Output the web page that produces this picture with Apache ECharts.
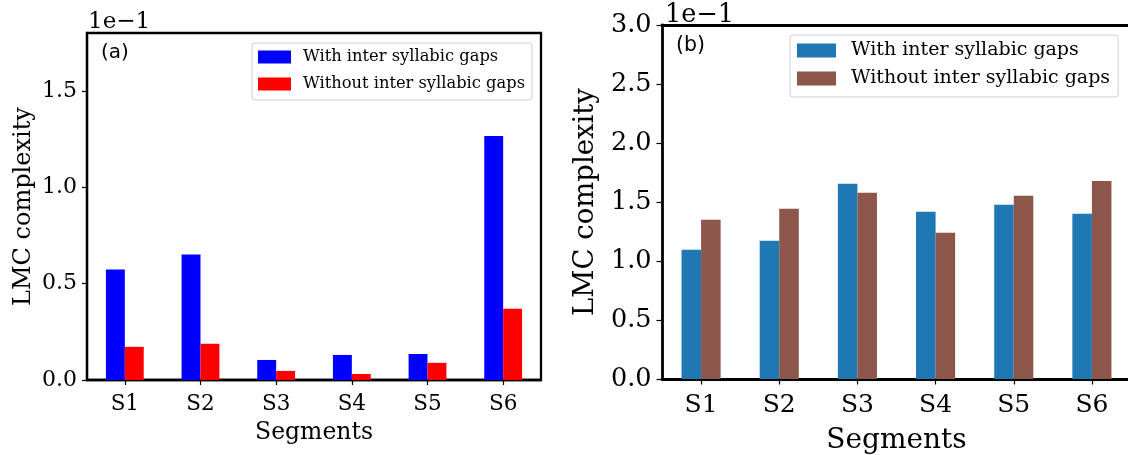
<!DOCTYPE html>
<html>
<head>
<meta charset="utf-8">
<script src="https://cdn.jsdelivr.net/npm/echarts@6/dist/echarts.min.js"></script>
<style>
html,body{margin:0;padding:0;background:#fff;}
#chart{width:1128px;height:455px;}
</style>
</head>
<body>
<div id="chart"></div>
<script>
// ---- data (values in units of 1e-1) ----
const categories = ['S1', 'S2', 'S3', 'S4', 'S5', 'S6'];
const seriesLabels = ['With inter syllabic gaps', 'Without inter syllabic gaps'];
const leftWith    = [0.573, 0.651, 0.104, 0.130, 0.135, 1.266];
const leftWithout = [0.172, 0.188, 0.047, 0.031, 0.089, 0.370];
const rightWith    = [1.095, 1.171, 1.654, 1.417, 1.476, 1.400];
const rightWithout = [1.349, 1.442, 1.578, 1.239, 1.552, 1.679];
const leftTicks  = [0, 0.5, 1.0, 1.5];
const rightTicks = [0, 0.5, 1.0, 1.5, 2.0, 2.5, 3.0];
const offsetText = '1e\u22121';
const panelLabels = ['(a)', '(b)'];
const xName = 'Segments';
const yName = 'LMC complexity';

const SERIF = 'DejaVu Serif';

const chart = echarts.init(document.getElementById('chart'), null, {renderer: 'canvas'});

function yAxisCfg(gi, max, ticks, fs, nfs, gap, lw, tl) {
  return {
    type: 'value', gridIndex: gi, min: 0, max: max, interval: 0.5,
    splitLine: {show: false},
    axisLine: {show: true, lineStyle: {color: '#000', width: lw}},
    axisTick: {show: true, length: tl, lineStyle: {color: '#000', width: 1.2}, customValues: ticks},
    axisLabel: {color: '#000', fontFamily: SERIF, fontSize: fs, margin: tl + 5,
      customValues: ticks, formatter: v => v.toFixed(1)},
    name: yName, nameLocation: 'middle', nameGap: gap,
    nameTextStyle: {color: '#000', fontFamily: SERIF, fontSize: nfs}
  };
}
function xAxisCfg(gi, fs, nfs, gap, lw, tl, margin) {
  return {
    type: 'category', gridIndex: gi, data: categories,
    axisLine: {show: true, lineStyle: {color: '#000', width: lw}},
    axisTick: {show: true, alignWithLabel: true, length: tl, lineStyle: {color: '#000', width: 1.2}},
    axisLabel: {color: '#000', fontFamily: SERIF, fontSize: fs, margin: margin},
    splitLine: {show: false},
    name: xName, nameLocation: 'middle', nameGap: gap,
    nameTextStyle: {color: '#000', fontFamily: SERIF, fontSize: nfs}
  };
}

const option = {
  animation: false,
  backgroundColor: '#fff',
  grid: [
    {left: 87, top: 33, width: 454, height: 347, show: true, borderColor: '#000', borderWidth: 2.3,
      backgroundColor: 'transparent', containLabel: false, outerBoundsMode: 'none'},
    {left: 662, top: 25, width: 469, height: 354, show: false,
      containLabel: false, outerBoundsMode: 'none'}
  ],
  xAxis: [
    xAxisCfg(0, 21.5, 23.5, 41, 2.3, 5, 13),
    xAxisCfg(1, 25, 28, 48, 2.8, 5.5, 14),
    {type: 'category', gridIndex: 1, position: 'top', data: categories,
      axisLine: {show: true, onZero: false, lineStyle: {color: '#000', width: 2.8}},
      axisTick: {show: false}, axisLabel: {show: false}, splitLine: {show: false}}
  ],
  yAxis: [
    yAxisCfg(0, 1.8, leftTicks, 22, 24, 51, 2.3, 5),
    yAxisCfg(1, 3.0, rightTicks, 25.5, 27.5, 62, 2.8, 5.5)
  ],
  legend: [
    {
      data: ['a|' + seriesLabels[0], 'a|' + seriesLabels[1]],
      formatter: n => n.slice(2),
      icon: 'rect',
      orient: 'vertical', left: 252, top: 43,
      itemWidth: 33, itemHeight: 13, itemGap: 11,
      padding: [6, 7, 8, 6],
      borderColor: '#d0d0d0', borderWidth: 1, borderRadius: 3,
      backgroundColor: 'rgba(255,255,255,0.8)',
      textStyle: {color: '#000', fontFamily: SERIF, fontSize: 16.3, padding: [0, 0, 0, 7]},
      selectedMode: false
    },
    {
      data: ['b|' + seriesLabels[0], 'b|' + seriesLabels[1]],
      formatter: n => n.slice(2),
      icon: 'rect',
      orient: 'vertical', left: 790, top: 35,
      itemWidth: 39, itemHeight: 14, itemGap: 9,
      padding: [6, 8, 9, 7],
      borderColor: '#d0d0d0', borderWidth: 1, borderRadius: 3,
      backgroundColor: 'rgba(255,255,255,0.8)',
      textStyle: {color: '#000', fontFamily: SERIF, fontSize: 19, padding: [0, 0, 0, 10]},
      selectedMode: false
    }
  ],
  series: [
    {name: 'a|' + seriesLabels[0], type: 'bar', xAxisIndex: 0, yAxisIndex: 0, data: leftWith,
      barWidth: '25%', barGap: '0%', itemStyle: {color: '#0000ff'}},
    {name: 'a|' + seriesLabels[1], type: 'bar', xAxisIndex: 0, yAxisIndex: 0, data: leftWithout,
      barWidth: '25%', barGap: '0%', itemStyle: {color: '#ff0000'}},
    {name: 'b|' + seriesLabels[0], type: 'bar', xAxisIndex: 1, yAxisIndex: 1, data: rightWith,
      barWidth: '25%', barGap: '0%', itemStyle: {color: '#1f77b4'}},
    {name: 'b|' + seriesLabels[1], type: 'bar', xAxisIndex: 1, yAxisIndex: 1, data: rightWithout,
      barWidth: '25%', barGap: '0%', itemStyle: {color: '#8c564b'}}
  ],
  graphic: [
    {type: 'text', left: 88, top: 11, style: {text: offsetText, fill: '#000', font: '23px "DejaVu Serif"'}},
    {type: 'text', left: 665, top: 2, style: {text: offsetText, fill: '#000', font: '25.5px "DejaVu Serif"'}},
    {type: 'text', left: 101, top: 43, style: {text: panelLabels[0], fill: '#000', font: '20px "DejaVu Sans"'}},
    {type: 'text', left: 676, top: 35, style: {text: panelLabels[1], fill: '#000', font: '20.5px "DejaVu Sans"'}}
  ]
};
chart.setOption(option);
</script>
</body>
</html>
